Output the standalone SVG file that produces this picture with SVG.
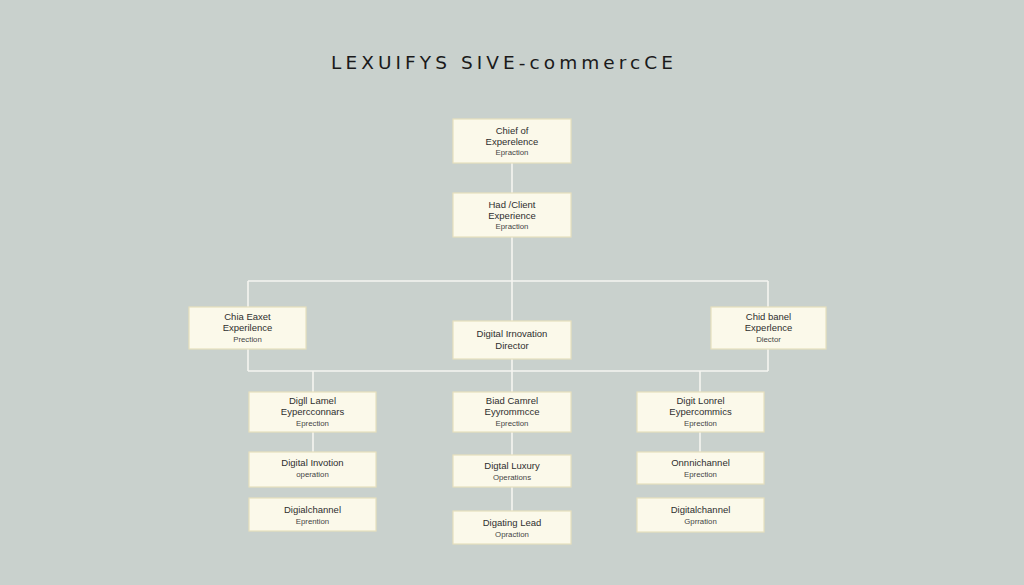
<svg xmlns="http://www.w3.org/2000/svg" width="1024" height="585" viewBox="0 0 1024 585">
<style>
.bg{fill:#c9d1cd}
.node rect{fill:#fbf9ea;stroke:#e7dfbd;stroke-width:1.2}
.t{font-family:"Liberation Sans","Open Sans",sans-serif;fill:#2e2e2e;text-anchor:middle}
.m{font-size:9.5px}
.s{font-size:7.8px;fill:#444}
.title{font-family:"DejaVu Sans","Liberation Sans",sans-serif;font-size:18.5px;fill:#1a1a1a}
#connectors path{fill:none;stroke:#f5f5f1;stroke-width:1.6}
</style>
<rect class="bg" x="0" y="0" width="1024" height="585"/>
<text class="title" x="331" y="69" textLength="342" lengthAdjust="spacing">LEXUIFYS SIVE-commercCE</text>
<g id="connectors">
<path d="M512 163V193M512 237V392M512 432V455M512 487V511"/>
<path d="M248 281H768M248 281V307M248 349V371M768 281V307M768 349V371M248 371H768"/>
<path d="M313 371V392M313 432V452M700 371V392M700 432V452"/>
</g>
<g id="n-chief" class="node"><rect x="453" y="119" width="118" height="44"/>
<text class="t m" x="512" y="133.5">Chief of</text><text class="t m" x="512" y="144.5">Experelence</text><text class="t s" x="512" y="155">Epraction</text></g>
<g id="n-head" class="node"><rect x="453" y="193" width="118" height="44"/>
<text class="t m" x="512" y="207.5">Had /Client</text><text class="t m" x="512" y="218.5">Experience</text><text class="t s" x="512" y="229">Epraction</text></g>
<g id="n-left" class="node"><rect x="189" y="307" width="117" height="42"/>
<text class="t m" x="247.5" y="320">Chia Eaxet</text><text class="t m" x="247.5" y="331">Experilence</text><text class="t s" x="247.5" y="342">Prection</text></g>
<g id="n-digital" class="node"><rect x="453" y="321" width="118" height="38"/>
<text class="t m" x="512" y="337">Digital Irnovation</text><text class="t m" x="512" y="349">Director</text></g>
<g id="n-right" class="node"><rect x="711" y="307" width="115" height="42"/>
<text class="t m" x="768.5" y="320">Chid banel</text><text class="t m" x="768.5" y="331">Experlence</text><text class="t s" x="768.5" y="342">Diector</text></g>
<g id="n-l1" class="node"><rect x="249" y="392" width="127" height="40"/>
<text class="t m" x="312.5" y="404">Digll Lamel</text><text class="t m" x="312.5" y="415">Eypercconnars</text><text class="t s" x="312.5" y="425.5">Eprection</text></g>
<g id="n-l2" class="node"><rect x="249" y="452" width="127" height="35"/>
<text class="t m" x="312.5" y="466">Digital Invotion</text><text class="t s" x="312.5" y="477">operation</text></g>
<g id="n-l3" class="node"><rect x="249" y="498" width="127" height="33"/>
<text class="t m" x="312.5" y="512.5">Digialchannel</text><text class="t s" x="312.5" y="523.5">Eprention</text></g>
<g id="n-m1" class="node"><rect x="453" y="392" width="118" height="40"/>
<text class="t m" x="512" y="404">Biad Camrel</text><text class="t m" x="512" y="415">Eyyrommcce</text><text class="t s" x="512" y="425.5">Eprection</text></g>
<g id="n-m2" class="node"><rect x="453" y="455" width="118" height="32"/>
<text class="t m" x="512" y="468.5">Digtal Luxury</text><text class="t s" x="512" y="479.5">Operations</text></g>
<g id="n-m3" class="node"><rect x="453" y="511" width="118" height="33"/>
<text class="t m" x="512" y="526">Digating Lead</text><text class="t s" x="512" y="537">Opraction</text></g>
<g id="n-r1" class="node"><rect x="637" y="392" width="127" height="40"/>
<text class="t m" x="700.5" y="404">Digit Lonrel</text><text class="t m" x="700.5" y="415">Eypercommics</text><text class="t s" x="700.5" y="425.5">Eprection</text></g>
<g id="n-r2" class="node"><rect x="637" y="452" width="127" height="32"/>
<text class="t m" x="700.5" y="465.5">Onnnichannel</text><text class="t s" x="700.5" y="477">Eprection</text></g>
<g id="n-r3" class="node"><rect x="637" y="498" width="127" height="34"/>
<text class="t m" x="700.5" y="512.5">Digitalchannel</text><text class="t s" x="700.5" y="523.5">Gprration</text></g>
</svg>
